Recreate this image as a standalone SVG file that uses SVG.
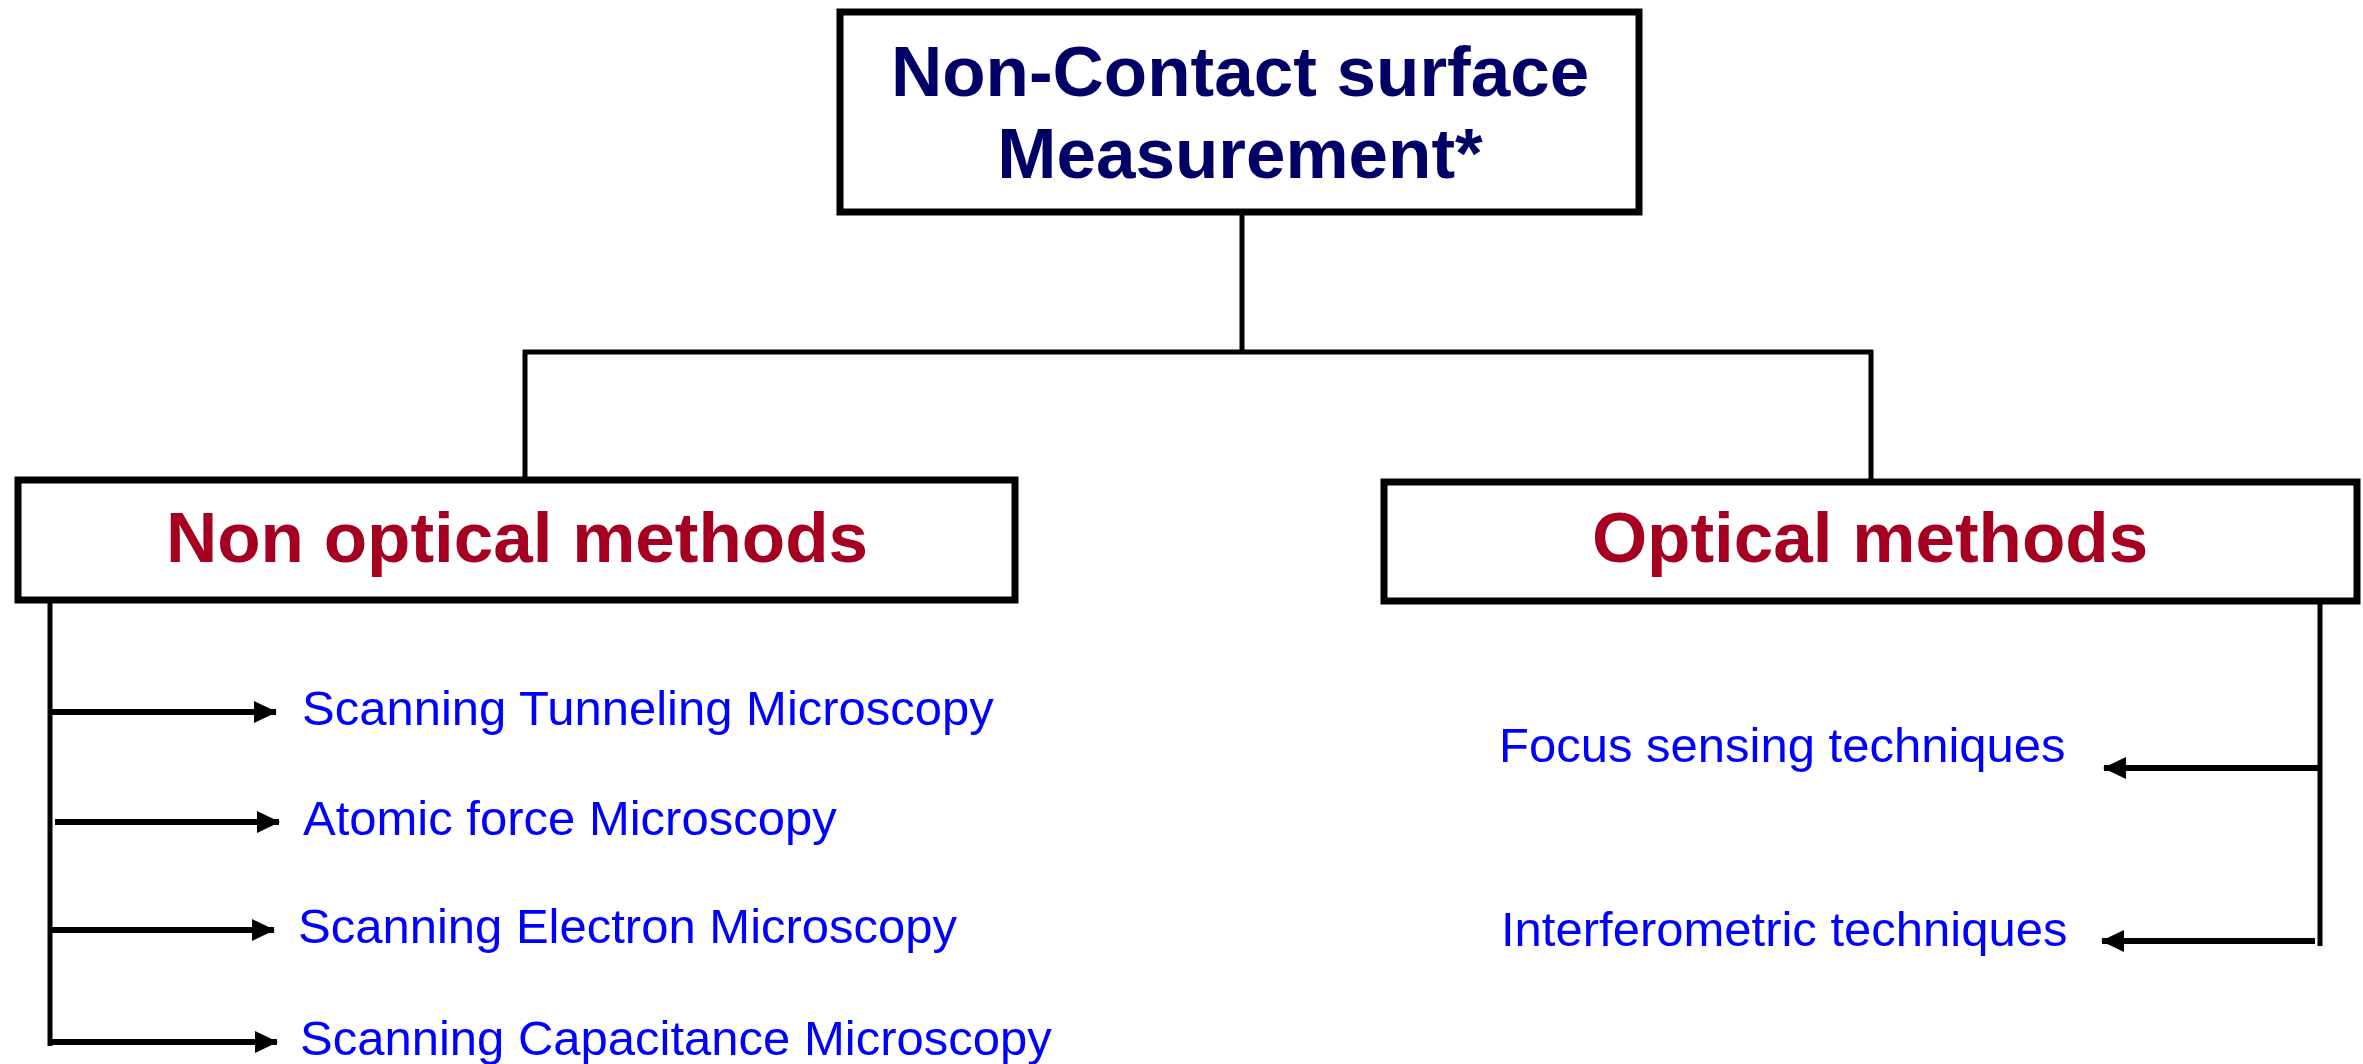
<svg xmlns="http://www.w3.org/2000/svg" width="2363" height="1064" viewBox="0 0 2363 1064">
<style>
.box{fill:#ffffff;stroke:#000000;stroke-width:7}
.title{font-family:"Liberation Sans",Arial,sans-serif;font-weight:bold;font-size:71px;fill:#000066;text-anchor:middle}
.cat{font-family:"Liberation Sans",Arial,sans-serif;font-weight:bold;font-size:71px;fill:#A50021;text-anchor:middle}
.item{font-family:"Liberation Sans",Arial,sans-serif;font-size:49px;fill:#0000FF}
.line{fill:none;stroke:#000000;stroke-width:5}
.arr{fill:none;stroke:#000000;stroke-width:6;marker-end:url(#ah)}
</style>
<defs>
<marker id="ah" markerUnits="userSpaceOnUse" markerWidth="24" markerHeight="24" refX="22" refY="12" orient="auto">
<path d="M0,1 L23,12 L0,23 Z" fill="#000000"/>
</marker>
</defs>
<rect width="2363" height="1064" fill="#ffffff"/>
<g id="connectors">
<line class="line" x1="1242" y1="212" x2="1242" y2="352"/>
<line class="line" x1="523" y1="352" x2="1873" y2="352"/>
<line class="line" x1="525" y1="350" x2="525" y2="482"/>
<line class="line" x1="1871" y1="350" x2="1871" y2="482"/>
<line class="line" x1="50" y1="600" x2="50" y2="1046"/>
<line class="arr" x1="50" y1="712" x2="276" y2="712"/>
<line class="arr" x1="55" y1="822" x2="279" y2="822"/>
<line class="arr" x1="50" y1="930" x2="274" y2="930"/>
<line class="arr" x1="50" y1="1042" x2="277" y2="1042"/>
<line class="line" x1="2320" y1="601" x2="2320" y2="946"/>
<line class="arr" x1="2320" y1="768" x2="2104" y2="768"/>
<line class="arr" x1="2315" y1="941" x2="2102" y2="941"/>
</g>
<g id="node-root">
<rect class="box" x="840" y="12" width="799" height="200"/>
<text class="title" x="1240" y="96">Non-Contact surface</text>
<text class="title" x="1240" y="178">Measurement*</text>
</g>
<g id="node-nonoptical">
<rect class="box" x="18" y="480" width="997" height="120"/>
<text class="cat" x="517" y="562">Non optical methods</text>
</g>
<g id="node-optical">
<rect class="box" x="1384" y="482" width="973" height="119"/>
<text class="cat" x="1870" y="562">Optical methods</text>
</g>
<g id="node-stm"><text class="item" x="302" y="725">Scanning Tunneling Microscopy</text></g>
<g id="node-afm"><text class="item" x="303" y="835">Atomic force Microscopy</text></g>
<g id="node-sem"><text class="item" x="298" y="943">Scanning Electron Microscopy</text></g>
<g id="node-scm"><text class="item" x="300" y="1055">Scanning Capacitance Microscopy</text></g>
<g id="node-focus"><text class="item" x="1499" y="762">Focus sensing techniques</text></g>
<g id="node-interf"><text class="item" x="1501" y="946">Interferometric techniques</text></g>
</svg>
